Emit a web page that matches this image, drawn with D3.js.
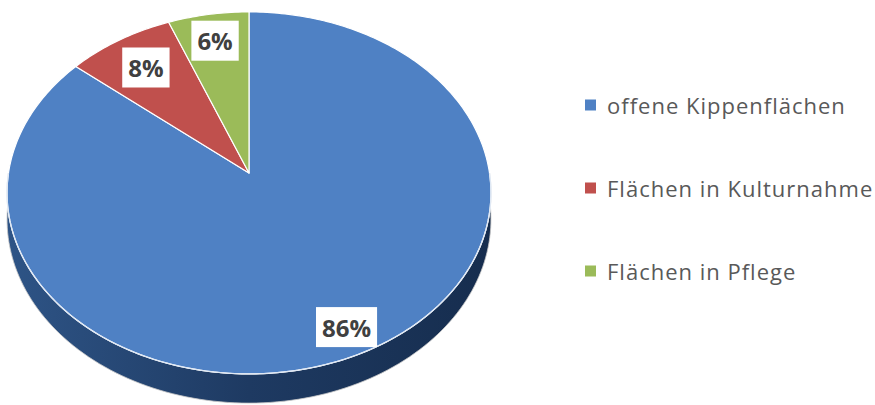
<!DOCTYPE html>
<html><head><meta charset="utf-8">
<script src="https://cdn.jsdelivr.net/npm/d3@7"></script>
<style>html,body{margin:0;padding:0;background:#fff;}svg{display:block;}</style>
</head><body>
<svg id="c" width="875" height="405"></svg>
<script>
const categories = ["offene Kippenflächen", "Flächen in Kulturnahme", "Flächen in Pflege"];
const values = [86, 8, 6];
const labels = ["86%", "8%", "6%"];
const colors = ["#4F81C4", "#C0504D", "#9BBB59"];

// layout
const X0 = 249, Y0 = 173, A = 240.5, B = 178.8, P = 0.11, H = 26;
const labelR = [0.87, 0.78, 0.82];

const svg = d3.select("#c");
const defs = svg.append("defs");
const g1 = defs.append("linearGradient").attr("id", "side").attr("x1", "0").attr("x2", "1").attr("y1", "0").attr("y2", "0");
g1.append("stop").attr("offset", "0").attr("stop-color", "#2E5486");
g1.append("stop").attr("offset", "0.5").attr("stop-color", "#1E3A62");
g1.append("stop").attr("offset", "1").attr("stop-color", "#162D4E");

function proj(theta, r, level) {
  const u = r * Math.sin(theta), v = -r * Math.cos(theta);
  const w = 1 / (1 - P * v);
  return [X0 + A * u * w, Y0 + B * v * w + level * H * w];
}
function arcPts(a0, a1, level, n) {
  const pts = [];
  for (let i = 0; i <= n; i++) pts.push(proj(a0 + (a1 - a0) * i / n, 1, level));
  return pts;
}
const line = d3.line();

const pie = d3.pie().sort(null).startAngle(0).endAngle(2 * Math.PI)(values);

// side (front half only, visible)
const sideArcs = [];
pie.forEach((d, i) => {
  const a0 = Math.max(d.startAngle, Math.PI / 2), a1 = Math.min(d.endAngle, 3 * Math.PI / 2);
  if (a1 > a0) sideArcs.push({i, a0, a1});
});
sideArcs.forEach(s => {
  const top = arcPts(s.a0, s.a1, 0, 120);
  const bot = arcPts(s.a0, s.a1, 1, 120).reverse();
  svg.append("path").attr("d", line(top.concat(bot)) + "Z")
    .attr("fill", s.i === 0 ? "url(#side)" : d3.color(colors[s.i]).darker(1.5))
    .attr("stroke", "#c8c8c8").attr("stroke-width", 0.8);
});

// top slices
pie.forEach((d, i) => {
  const pts = [proj(0, 0, 0)].concat(arcPts(d.startAngle, d.endAngle, 0, Math.max(8, Math.round((d.endAngle - d.startAngle) * 60))));
  svg.append("path").attr("d", line(pts) + "Z")
    .attr("fill", colors[i]).attr("stroke", "#ffffff").attr("stroke-width", 1.2)
    .attr("stroke-linejoin", "round");
});
// light rim line between top and side
svg.append("path").attr("d", line(arcPts(Math.PI / 2, 3 * Math.PI / 2, 0, 120)))
  .attr("fill", "none").attr("stroke", "#dfe8f4").attr("stroke-width", 1.3);

// labels
pie.forEach((d, i) => {
  const mid = (d.startAngle + d.endAngle) / 2;
  const [x, y] = proj(mid, labelR[i], 0);
  const g = svg.append("g");
  const t = g.append("text").attr("x", x).attr("y", y).attr("text-anchor", "middle")
    .attr("dominant-baseline", "central")
    .style("font-family", "'Open Sans', sans-serif").style("font-weight", "bold")
    .style("font-size", "24px").attr("fill", "#404040").text(labels[i]);
  const bb = t.node().getBBox();
  const bw = bb.width + 12, bh = 40;
  g.insert("rect", "text").attr("x", x - bw / 2).attr("y", y - bh / 2).attr("width", bw).attr("height", bh).attr("fill", "#ffffff");
});

// legend
const legY = d3.scalePoint().domain(categories).range([105, 271]);
categories.forEach((c, i) => {
  const y = legY(c);
  svg.append("rect").attr("x", 585).attr("y", y - 5.5).attr("width", 11).attr("height", 11).attr("fill", colors[i]);
  svg.append("text").attr("x", 607).attr("y", y).attr("dominant-baseline", "central")
    .style("font-family", "'Open Sans', sans-serif").style("font-size", "22px")
    .style("letter-spacing", "1px").attr("fill", "#595959").text(c);
});
</script>
</body></html>
